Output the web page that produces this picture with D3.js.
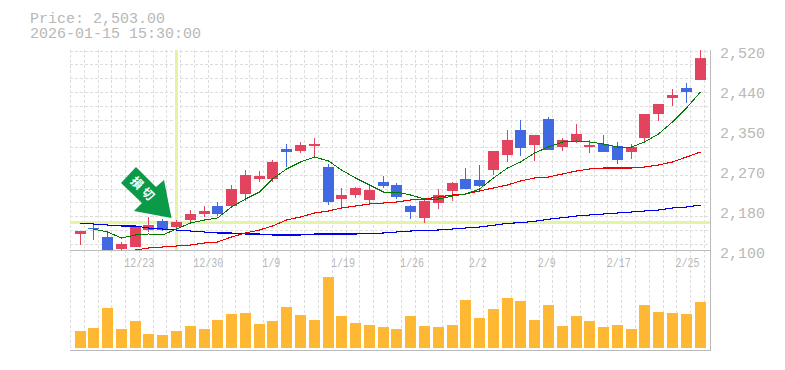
<!doctype html>
<html>

<head>
    <meta charset="utf-8">
    <title>Price chart</title>
    <style>
        html, body { margin: 0; padding: 0; background: #fff; }
        svg { display: block; }
        text { fill: #b8b8b8; }
        .big { font: 15px "Liberation Mono", monospace; }
        .small { font: 12px "Liberation Mono", monospace; }
        .axis path, .axis line { display: none; }
        .grid { stroke: #ddd; stroke-dasharray: 3,2; fill: none; }
        .frame { stroke: #bbb; stroke-width: 1; fill: none; }
        .ma { fill: none; shape-rendering: crispEdges; }
    </style>
    <script src="https://cdn.jsdelivr.net/npm/d3@7"></script>
</head>

<body>
    <svg width="785" height="370"></svg>
    <script>
        // one entry per session, oldest first
        var opens = [2133.6, 2146.2, 2127.3, 2102.1, 2106.3, 2142, 2160.9, 2148.3, 2163, 2175.6, 2192.4, 2192.4, 2217.6, 2249.1, 2249.1,
            2312.1, 2307.9, 2318.4, 2274.3, 2207.1, 2215.5, 2205, 2242.8, 2236.5, 2192.4, 2167.2, 2198.7, 2223.9, 2249.1, 2247,
            2268, 2299.5, 2352, 2320.5, 2375.1, 2316.3, 2326.8, 2316.3, 2322.6, 2318.4, 2305.8, 2335.2, 2385.6, 2419.2, 2440.2, 2457
        ];
        var closes = [2139.9, 2144.1, 2100, 2112.6, 2150.4, 2152.5, 2142, 2158.8, 2175.6, 2181.9, 2175.6, 2228.1, 2257.5, 2255.4, 2284.8,
            2305.8, 2320.5, 2322.6, 2200.8, 2215.5, 2230.2, 2226, 2234.4, 2211.3, 2179.8, 2202.9, 2215.5, 2240.7, 2228.1, 2234.4,
            2307.9, 2331, 2314.2, 2341.5, 2310, 2331, 2343.6, 2320.5, 2305.8, 2289, 2316.3, 2385.6, 2406.6, 2425.5, 2431.8, 2503
        ];
        var highs = [2139.9, 2154.6, 2135.7, 2116.8, 2150.4, 2169.3, 2165.1, 2163, 2184, 2192.4, 2200.8, 2236.5, 2268, 2265.9, 2289,
            2322.6, 2326.8, 2335.2, 2280.6, 2230.2, 2232.3, 2236.5, 2255.4, 2240.7, 2194.5, 2207.1, 2228.1, 2242.8, 2272.2, 2278.5,
            2307.9, 2352, 2373, 2341.5, 2379.3, 2335.2, 2364.6, 2331, 2341.5, 2326.8, 2322.6, 2385.6, 2406.6, 2438.1, 2450.7, 2520
        ];
        var lows = [2110.5, 2121, 2097.9, 2097.9, 2106.3, 2137.8, 2139.9, 2146.2, 2154.6, 2169.3, 2171.4, 2190.3, 2202.9, 2242.8, 2242.8,
            2274.3, 2303.7, 2293.2, 2194.5, 2188.2, 2209.2, 2196.6, 2230.2, 2207.1, 2165.1, 2156.7, 2186.1, 2202.9, 2228.1, 2232.3,
            2257.5, 2284.8, 2297.4, 2286.9, 2310, 2307.9, 2324.7, 2303.7, 2305.8, 2280.6, 2291.1, 2328.9, 2370.9, 2402.4, 2408.7, 2457
        ];
        var volumes = [17, 20, 40, 19, 27, 14, 13, 17, 22, 19, 28, 34, 35, 24, 27, 41, 33, 28, 71, 32, 25, 23, 21,
            19, 32, 22, 21, 23, 48, 30, 39, 50, 47, 28, 43, 22, 32, 27, 21, 23, 19, 43, 36, 35, 34, 46
        ];
        var maShort = [null, 2144.1, 2137.8, 2125.2, 2131.5, 2133.6, 2131.5, 2144.1, 2156.7, 2163, 2167.2, 2190.3, 2207.1, 2221.8, 2249.1,
            2270.1, 2284.8, 2295.3, 2286.9, 2268, 2251.2, 2236.5, 2221.8, 2221.8, 2215.5, 2207.1, 2207.1, 2213.4, 2217.6, 2228.1,
            2251.2, 2272.2, 2284.8, 2303.7, 2316.3, 2326.8, 2328.9, 2326.8, 2322.6, 2316.3, 2316.3, 2326.8, 2343.6, 2368.8, 2398.2, 2431.8
        ];
        var maMid = [null, null, null, null, 2100, 2104.2, 2106.3, 2108.4, 2110.5, 2114.7, 2116.8, 2127.3, 2135.7, 2142, 2150.4,
            2163, 2169.3, 2177.7, 2181.9, 2188.2, 2192.4, 2196.6, 2198.7, 2200.8, 2205, 2207.1, 2211.3, 2215.5, 2217.6, 2223.9,
            2230.2, 2236.5, 2244.9, 2251.2, 2253.3, 2259.6, 2265.9, 2270.1, 2272.2, 2272.2, 2272.2, 2274.3, 2278.5, 2284.8, 2295.3, 2305.8
        ];
        var maLong = [2156.7, 2154.6, 2152.5, 2150.4, 2150.4, 2146.2, 2144.1, 2142, 2139.9, 2137.8, 2135.7, 2135.7, 2133.6, 2133.6, 2131.5,
            2131.5, 2131.5, 2133.6, 2133.6, 2133.6, 2133.6, 2134.7, 2135.7, 2137.8, 2139.9, 2141, 2142, 2144.1, 2146.2, 2148.3,
            2151.9, 2156.1, 2157.3, 2160.3, 2164.5, 2167.8, 2171.4, 2173.5, 2175.6, 2177.7, 2179.8, 2181.9, 2184, 2188.2, 2190.3, 2194.5
        ];
        var dateTicks = [3, 8, 13, 18, 23, 28, 33, 38, 43];
        var dateLabels = ["12/23", "12/30", "1/9", "1/19", "1/26", "2/2", "2/9", "2/17", "2/25"];
        var priceTicks = [2520, 2436, 2352, 2268, 2184, 2100];
        var priceLabels = ["2,520", "2,440", "2,350", "2,270", "2,180", "2,100"];
        var titleLines = ["Price: 2,503.00", "2026-01-15 15:30:00"];
        var markIndex = 7;
        var markPrice = 2158.8;
        var markLabel = ["損", "切"];

        var plotLeft = 70,
            plotRight = 710,
            priceTop = 50,
            priceBottom = 250,
            volumeBottom = 348,
            frameBottom = 350,
            gridStep = 13.78;

        var svg = d3.select("svg");

        var x = d3.scaleBand()
            .domain(d3.range(opens.length))
            .range([73.61, 73.61 + gridStep * opens.length])
            .paddingInner(0.2)
            .paddingOuter(0.1);
        var barWidth = 11;

        function left(i) {
            return Math.floor(x(i) + 0.02);
        }

        function center(i) {
            return left(i) + barWidth / 2;
        }

        var y = d3.scaleLinear().domain([2100, 2520]).range([priceBottom, priceTop]);
        var v = d3.scaleLinear().domain([0, 71]).range([volumeBottom, volumeBottom - 71]);

        svg.append("defs").append("clipPath").attr("id", "price-clip")
            .append("rect")
            .attr("x", plotLeft)
            .attr("y", priceTop)
            .attr("width", plotRight - plotLeft)
            .attr("height", priceBottom - priceTop + 1);

        // grid
        var grid = svg.append("g").attr("class", "grid");
        grid.selectAll(".vgrid")
            .data(d3.range(plotLeft, plotRight, gridStep))
            .enter().append("line")
            .attr("x1", function (d) { return Math.round(d) + 0.5; })
            .attr("x2", function (d) { return Math.round(d) + 0.5; })
            .attr("y1", priceTop)
            .attr("y2", frameBottom);
        grid.selectAll(".hgrid")
            .data(d3.range(priceTop + 0.7, priceBottom, gridStep))
            .enter().append("line")
            .attr("x1", plotLeft)
            .attr("x2", plotRight)
            .attr("y1", function (d) { return Math.round(d) + 0.5; })
            .attr("y2", function (d) { return Math.round(d) + 0.5; });

        // volume
        svg.append("g").selectAll("rect")
            .data(volumes)
            .enter().append("rect")
            .attr("x", function (d, i) { return left(i); })
            .attr("y", function (d) { return v(d); })
            .attr("width", barWidth)
            .attr("height", function (d) { return volumeBottom - v(d); })
            .attr("fill", "#ffb833");

        // marker cross
        var cross = svg.append("g").attr("fill", "#e3f4a4");
        cross.append("rect")
            .attr("x", center(markIndex) - 1.5)
            .attr("y", priceTop)
            .attr("width", 3)
            .attr("height", priceBottom - priceTop);
        cross.append("rect")
            .attr("x", plotLeft)
            .attr("y", Math.round(y(markPrice)) - 1)
            .attr("width", plotRight - plotLeft)
            .attr("height", 3);

        var plot = svg.append("g").attr("clip-path", "url(#price-clip)");

        // candles
        var candles = plot.selectAll(".candle")
            .data(opens)
            .enter().append("g")
            .attr("class", "candle")
            .attr("fill", function (d, i) { return closes[i] >= opens[i] ? "#e2445f" : "#4169e1"; });
        candles.append("rect")
            .attr("x", function (d, i) { return left(i) + 5; })
            .attr("width", 1)
            .attr("y", function (d, i) { return y(highs[i]); })
            .attr("height", function (d, i) { return y(lows[i]) - y(highs[i]); });
        candles.append("rect")
            .attr("x", function (d, i) { return left(i); })
            .attr("width", barWidth)
            .attr("y", function (d, i) { return y(Math.max(opens[i], closes[i])); })
            .attr("height", function (d, i) { return Math.abs(y(opens[i]) - y(closes[i])); });

        // moving averages
        var line = d3.line()
            .defined(function (d) { return d !== null; })
            .x(function (d, i) { return center(i); })
            .y(function (d) { return y(d); });

        plot.append("path").attr("class", "ma").attr("d", line(maLong)).attr("stroke", "#0000ee").attr("stroke-width", 1.1);
        plot.append("path").attr("class", "ma").attr("d", line(maMid)).attr("stroke", "#ee0000").attr("stroke-width", 1.1);
        plot.append("path").attr("class", "ma").attr("d", line(maShort)).attr("stroke", "#007a00").attr("stroke-width", 1);

        // frame
        svg.append("path").attr("class", "frame")
            .attr("d", "M" + plotLeft + "," + (priceBottom + 0.5) + "H" + plotRight
                + "M" + plotLeft + "," + (frameBottom + 0.5) + "H" + plotRight
                + "M" + (plotRight + 0.5) + "," + priceTop + "V" + (frameBottom + 1));

        // axes
        svg.append("g")
            .attr("class", "axis big")
            .attr("transform", "translate(" + plotRight + ",3)")
            .call(d3.axisRight(y).tickValues(priceTicks).tickSize(0).tickPadding(10)
                .tickFormat(function (d, i) { return priceLabels[i]; }))
            .attr("font-family", null).attr("font-size", null);

        svg.append("g")
            .attr("class", "axis small")
            .attr("transform", "translate(0,258)")
            .call(d3.axisBottom(x).tickValues(dateTicks).tickSize(0).tickPadding(0)
                .tickFormat(function (d, i) { return dateLabels[i]; }))
            .attr("font-family", null).attr("font-size", null)
            .selectAll("text")
            .attr("text-anchor", "start")
            .attr("x", 2.5)
            .attr("textLength", function (d, i) { return dateLabels[i].length * 6; })
            .attr("lengthAdjust", "spacingAndGlyphs");

        // arrow, drawn from the marked session
        var arrowShape = [[-50.5, -39], [-35.5, -55], [-15.5, -35], [-7.5, -42], [0, -4], [-37.5, -11], [-29.5, -19]];
        var arrow = svg.append("g")
            .attr("transform", "translate(" + (center(markIndex) - 5) + "," + y(markPrice) + ")");
        arrow.append("path")
            .attr("d", d3.line()(arrowShape) + "Z")
            .attr("fill", "#0a9a48");
        arrow.selectAll("text")
            .data(markLabel)
            .enter().append("text")
            .attr("transform", function (d, i) {
                return "translate(" + (-34.5 + i * 11) + "," + (-39 + i * 11) + ") rotate(45)";
            })
            .attr("text-anchor", "middle")
            .attr("dy", "0.36em")
            .style("fill", "#fff")
            .style("font", "bold 12px 'Noto Sans CJK JP'")
            .text(function (d) { return d; });

        // header
        svg.append("g").selectAll("text")
            .data(titleLines)
            .enter().append("text")
            .attr("class", "big")
            .attr("x", 30)
            .attr("y", function (d, i) { return 23 + i * 15; })
            .text(function (d) { return d; });
    </script>
</body>

</html>
